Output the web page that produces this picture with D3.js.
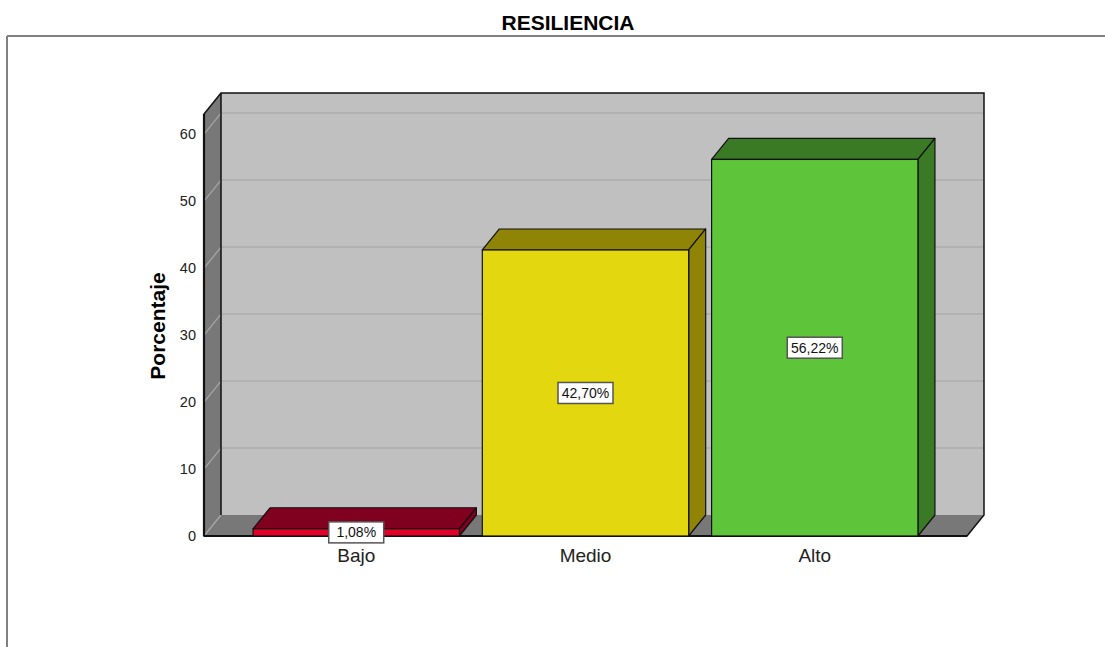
<!DOCTYPE html>
<html>
<head>
<meta charset="utf-8">
<script src="https://cdn.jsdelivr.net/npm/d3@7"></script>
<style>
  body { margin: 0; background: #fff; }
  svg { display: block; font-family: "Liberation Sans", Arial, sans-serif; }
</style>
</head>
<body>
<svg id="chart" width="1105" height="647"></svg>
<script>
// data
const categories = ["Bajo", "Medio", "Alto"];
const percents = [1.08, 42.70, 56.22];
const tickValues = [0, 10, 20, 30, 40, 50, 60];
const yMax = 63;

const frontColors = ["#e2002b", "#e3d70f", "#5ec43a"];
const darkColors = ["#800020", "#8f8406", "#3b7a24"];

const svg = d3.select("#chart");
const W = 1105, H = 647;

// 3d depth offset
const dx = 17, dy = -21;

const x = d3.scaleBand()
    .domain(categories)
    .range([204, 967])
    .paddingInner(0.1)
    .paddingOuter(0.214);

const y = d3.scaleLinear()
    .domain([0, yMax])
    .range([536, 114]);

const x0 = x.range()[0], x1 = x.range()[1];
const yTop = y(yMax), yBase = y(0);

const esLocale = d3.formatLocale({ decimal: ",", thousands: ".", grouping: [3], currency: ["", "€"] });
const fmt = esLocale.format(".2f");

// outer frame
svg.append("line").attr("x1", 7).attr("x2", W).attr("y1", 36).attr("y2", 36)
    .attr("stroke", "#808080").attr("stroke-width", 2);
svg.append("line").attr("x1", 7).attr("x2", 7).attr("y1", 36).attr("y2", H)
    .attr("stroke", "#808080").attr("stroke-width", 2);

// title
svg.append("text")
    .attr("x", 568).attr("y", 30)
    .attr("text-anchor", "middle")
    .attr("font-size", 21).attr("font-weight", "bold")
    .attr("fill", "#000")
    .text("RESILIENCIA");

const pts = a => a.map(p => p.join(",")).join(" ");

// back wall
svg.append("polygon")
    .attr("points", pts([[x0 + dx, yTop + dy], [x1 + dx, yTop + dy], [x1 + dx, yBase + dy], [x0 + dx, yBase + dy]]))
    .attr("fill", "#c0c0c0");

// left side panel
svg.append("polygon")
    .attr("points", pts([[x0, yTop], [x0 + dx, yTop + dy], [x0 + dx, yBase + dy], [x0, yBase]]))
    .attr("fill", "#787878");

// floor
svg.append("polygon")
    .attr("points", pts([[x0, yBase], [x0 + dx, yBase + dy], [x1 + dx, yBase + dy], [x1, yBase]]))
    .attr("fill", "#787878");

// gridlines on wall and side panel
const grid = svg.append("g");
tickValues.forEach(v => {
    if (v > 0) {
        grid.append("line")
            .attr("x1", x0 + dx).attr("x2", x1 + dx)
            .attr("y1", y(v) + dy).attr("y2", y(v) + dy)
            .attr("stroke", "#adadad").attr("stroke-width", 1.5);
    }
    grid.append("line")
        .attr("x1", x0).attr("x2", x0 + dx)
        .attr("y1", y(v)).attr("y2", y(v) + dy)
        .attr("stroke", "#a8a8a8").attr("stroke-width", 1.2);
});

// frame edges
const edges = svg.append("g").attr("stroke", "#111").attr("fill", "none");
edges.append("path").attr("d", `M${x0},${yBase}V${yTop}L${x0 + dx},${yTop + dy}H${x1 + dx}V${yBase + dy}L${x1},${yBase}Z`)
    .attr("stroke-width", 1.5);
edges.append("line").attr("x1", x0 + dx).attr("x2", x0 + dx).attr("y1", yTop + dy).attr("y2", yBase + dy)
    .attr("stroke-width", 1.5);
edges.append("line").attr("x1", x0).attr("x2", x0).attr("y1", yTop).attr("y2", yBase)
    .attr("stroke-width", 2.2);
edges.append("line").attr("x1", x0).attr("x2", x1).attr("y1", yBase).attr("y2", yBase)
    .attr("stroke-width", 2.2);

// y tick labels
svg.append("g")
    .selectAll("text")
    .data(tickValues)
    .join("text")
    .attr("x", 196)
    .attr("y", d => y(d))
    .attr("dy", "0.36em")
    .attr("text-anchor", "end")
    .attr("font-size", 14.5)
    .attr("fill", "#222")
    .text(d => d);

// y axis title
svg.append("text")
    .attr("transform", "translate(165,326) rotate(-90)")
    .attr("text-anchor", "middle")
    .attr("font-size", 21).attr("font-weight", "bold")
    .attr("fill", "#000")
    .text("Porcentaje");

// bars
const bars = svg.append("g")
    .selectAll("g")
    .data(categories.map((c, i) => ({ cat: c, value: percents[i], i })))
    .join("g");

bars.append("polygon") // top
    .attr("points", d => {
        const a = x(d.cat), b = a + x.bandwidth(), t = y(d.value);
        return pts([[a, t], [a + dx, t + dy], [b + dx, t + dy], [b, t]]);
    })
    .attr("fill", d => darkColors[d.i])
    .attr("stroke", "#111").attr("stroke-width", 1.2).attr("stroke-linejoin", "round");

bars.append("polygon") // side
    .attr("points", d => {
        const b = x(d.cat) + x.bandwidth(), t = y(d.value);
        return pts([[b, t], [b + dx, t + dy], [b + dx, yBase + dy], [b, yBase]]);
    })
    .attr("fill", d => darkColors[d.i])
    .attr("stroke", "#111").attr("stroke-width", 1.2).attr("stroke-linejoin", "round");

bars.append("rect") // front
    .attr("x", d => x(d.cat))
    .attr("y", d => y(d.value))
    .attr("width", x.bandwidth())
    .attr("height", d => yBase - y(d.value))
    .attr("fill", d => frontColors[d.i])
    .attr("stroke", "#111").attr("stroke-width", 1.2);

// x category labels
svg.append("g")
    .selectAll("text")
    .data(categories)
    .join("text")
    .attr("x", d => x(d) + x.bandwidth() / 2)
    .attr("y", 562)
    .attr("text-anchor", "middle")
    .attr("font-size", 19)
    .attr("fill", "#222")
    .text(d => d);

// value labels
const lab = svg.append("g")
    .selectAll("g")
    .data(categories.map((c, i) => ({ cat: c, value: percents[i], i })))
    .join("g")
    .attr("transform", d => `translate(${x(d.cat) + x.bandwidth() / 2},${(y(d.value) + yBase) / 2})`);

lab.append("rect")
    .attr("x", -27.5).attr("y", -10.5)
    .attr("width", 55).attr("height", 21)
    .attr("fill", "#fff")
    .attr("stroke", "#555").attr("stroke-width", 1.5);

lab.append("text")
    .attr("text-anchor", "middle")
    .attr("dy", "0.36em")
    .attr("font-size", 14)
    .attr("fill", "#111")
    .text(d => fmt(d.value) + "%");
</script>
</body>
</html>
